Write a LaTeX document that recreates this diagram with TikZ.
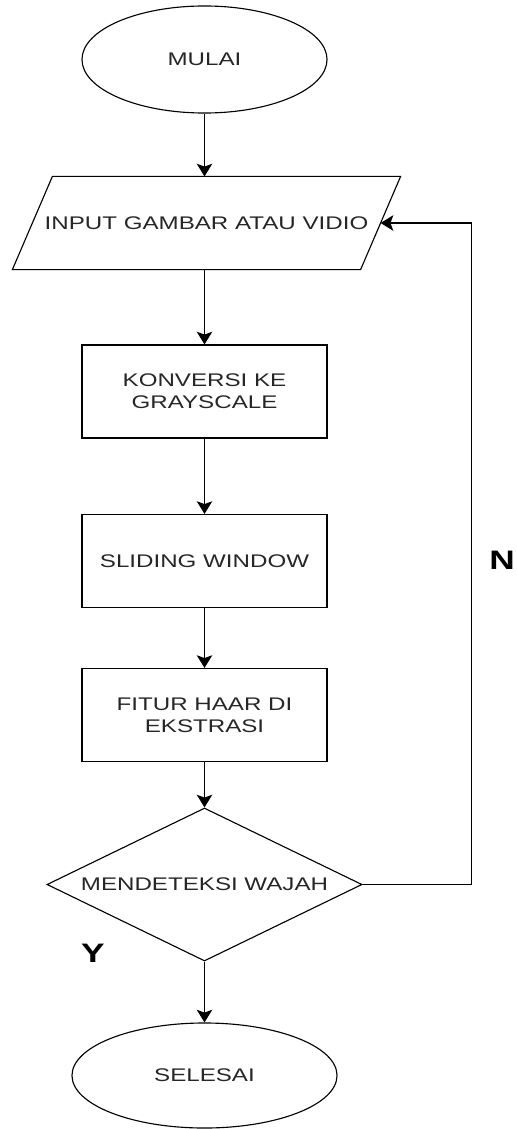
\documentclass[tikz,border=0pt]{standalone}
\usepackage{fontspec}
\setmainfont[FakeStretch=1.32]{Liberation Sans}
\usetikzlibrary{arrows.meta,shapes.geometric,positioning,calc}

\begin{document}
\begin{tikzpicture}[
    x=0.025cm, y=-0.025cm,
    term/.style={draw, ellipse, inner sep=0pt, font=\fontsize{13}{15.6}\selectfont, text=black!85},
    box/.style={draw, minimum width=6.125cm, minimum height=2.325cm, align=center, inner sep=0pt, font=\fontsize{13}{15.6}\selectfont, text=black!85},
    io/.style={minimum width=8.675cm, minimum height=2.3cm, inner sep=0pt, font=\fontsize{13}{15.6}\selectfont, text=black!85},
    dec/.style={draw, diamond, aspect=2.06, minimum width=7.875cm, minimum height=3.825cm, inner sep=0pt, font=\fontsize{13}{15.6}\selectfont, text=black!85},
    arr/.style={-{Stealth[length=9pt, width=11pt, inset=2pt]}, line width=0.8pt},
    yn/.style={font=\fontsize{19}{22}\selectfont\bfseries}
]
\useasboundingbox (0,0) rectangle (516,1129);
\tikzset{every path/.append style={line width=0.8pt}}
\node[term, minimum width=6.125cm, minimum height=2.675cm] (mulai) at (204.5,59.5) {MULAI};
\node[io] (inp) at (206.5,223) {INPUT GAMBAR ATAU VIDIO};
\draw ($(inp.south west)+(-20,0)$) -- ($(inp.north west)+(20,0)$) -- ($(inp.north east)+(20,0)$) -- ($(inp.south east)+(-20,0)$) -- cycle;
\node[box] (konv) at (204.5,391.5) {KONVERSI KE\\GRAYSCALE};
\node[box] (slide) at (204.5,561) {SLIDING WINDOW};
\node[box] (fitur) at (204.5,715) {FITUR HAAR DI\\EKSTRASI};
\node[dec] (cek) at (204.5,884.5) {MENDETEKSI WAJAH};
\node[term, minimum width=6.625cm, minimum height=2.625cm] (selesai) at (204.5,1075.5) {SELESAI};
\node[yn] (ya) at (93,953) {Y};
\node[yn] (tidak) at (502,560) {N};

\draw[arr] (mulai) -- (mulai |- inp.north);
\draw[arr] (konv |- inp.south) -- (konv);
\draw[arr] (konv) -- (slide);
\draw[arr] (slide) -- (fitur);
\draw[arr] (fitur) -- (cek);
\draw[arr] (cek) -- (selesai);
\draw[arr] (cek.east) -- ++(109,0) |- (inp.east);
\end{tikzpicture}
\end{document}
